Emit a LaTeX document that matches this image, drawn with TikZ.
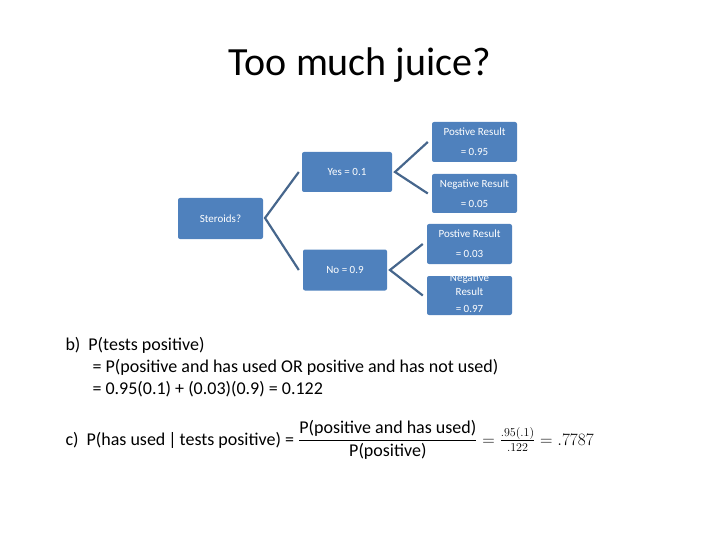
\documentclass[tikz,border=0pt]{standalone}
\usepackage{fontspec}
\setmainfont{Carlito}
\usepackage{amsmath}
\begin{document}
\begin{tikzpicture}[x=1pt,y=-1pt,
  box/.style={draw=none,fill={rgb,255:red,79;green,129;blue,189},rounded corners=2pt,text=white,font=\fontsize{11}{20}\selectfont,align=center,inner sep=0pt},
  link/.style={draw={rgb,255:red,70;green,102;blue,140},line width=2.2pt}]
\useasboundingbox (0,0) rectangle (720,540);
\node[font=\fontsize{40}{44}\selectfont] (title) at (360,65) {Too much juice?};
\node[box,minimum width=85pt,minimum height=41pt] (st) at (220.5,218.5) {Steroids?};
\node[box,minimum width=90pt,minimum height=40pt] (yes) at (347,172) {Yes = 0.1};
\node[box,minimum width=84pt,minimum height=41pt] (no) at (345,270) {No = 0.9};
\node[box,minimum width=85pt,minimum height=40pt] (p1) at (474.5,142) {Postive Result\\= 0.95};
\node[box,minimum width=85pt,minimum height=39pt] (n1) at (474.5,193.5) {Negative Result\\= 0.05};
\node[box,minimum width=85pt,minimum height=40pt] (p2) at (469.5,244) {Postive Result\\= 0.03};
\node[box,minimum width=85pt,minimum height=39pt] (n2) at (469.5,295.5) {};
\node[text=white,font=\fontsize{11}{14}\selectfont,align=center] (n2t) at (469.5,293) {Negative\\Result\\[3pt]= 0.97};
\coordinate (a) at (265,218);
\coordinate (b) at (395,172);
\coordinate (c) at (390,270);
\draw[link] (yes.west) ++(-3,0) coordinate (ya) -- (a) -- (no.west -| ya);
\draw[link] (p1.west) ++(-4,0) coordinate (pa) -- (b) -- (n1.west -| pa);
\draw[link] (p2.west) ++(-4,0) coordinate (pb) -- (c) -- (n2.west -| pb);
\node[anchor=north west,font=\fontsize{18}{22}\selectfont,align=left] (bb) at (62,334) {b)\hspace{8pt}P(tests positive)\\
\hspace{27pt}= P(positive and has used OR positive and has not used)\\
\hspace{27pt}= 0.95(0.1) + (0.03)(0.9) = 0.122};
\node[anchor=west,font=\fontsize{18}{22}\selectfont] (cc) at (62,440) {c)\hspace{8pt}P(has used\,|\,tests positive) = $\dfrac{\text{P(positive and has used)}}{\text{P(positive)}} = \frac{.95(.1)}{.122} = .7787$};
\end{tikzpicture}
\end{document}
